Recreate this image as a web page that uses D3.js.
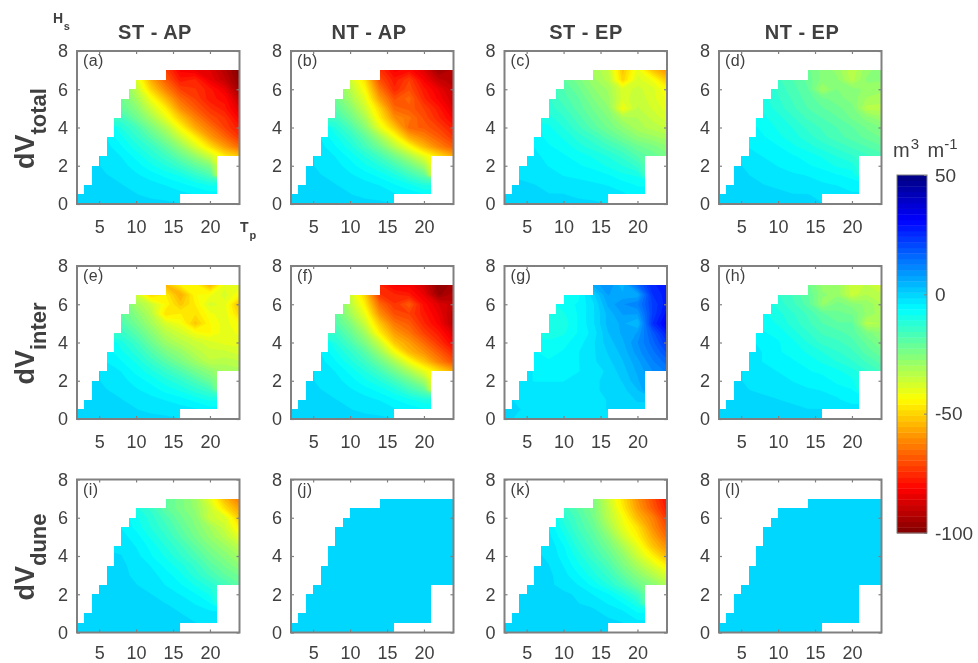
<!DOCTYPE html>
<html><head><meta charset="utf-8">
<script src="https://cdn.jsdelivr.net/npm/d3@7"></script>
<style>
html,body{margin:0;padding:0;background:#fff}
svg{display:block;filter:blur(0.5px)}
text{font-family:"Liberation Sans",Arial,sans-serif;fill:#404040}
</style></head><body>
<svg id="c" width="978" height="663"></svg>
<script>
const n = null;
const tpNodes = [2,4,6,8,10,12,14,16,18,20,22,24];
const hsTop = 7;
// Wave climate envelope: for each Tp bin start, lowest and highest Hs
const tpBins  = [2,3,4,5,6,7,8,9,10,11,12,13,14,15,16,17,18,19,20,21,22,23];
const hsLow   = [0,0,0,0,0,0,0,0,0,0,0,0,0,0,.5,.5,.5,.5,.5,2.5,2.5,2.5];
const hsHigh  = [.5,1,2,2.5,3.5,4.5,5.5,6,6.5,6.5,6.5,6.5,7,7,7,7,7,7,7,7,7,7];
const xTicks = [5,10,15,20];
const yTicks = [0,2,4,6,8];
const barTicks = [50,0,-50,-100];
const colTitles = ["ST - AP","NT - AP","ST - EP","NT - EP"];
const rowMain = ["total","inter","dune"];
const panelTags = ["(a)","(b)","(c)","(d)","(e)","(f)","(g)","(h)","(i)","(j)","(k)","(l)"];

// rows run from Hs = 7 (top) down to Hs = 0; columns are tpNodes
const dTotalStAp = [
 [n,n,n,n,n,n,-72,-82,-84,-86,-92,-100],
 [n,n,n,n,-38,-56,-68,-78,-76,-84,-90,-98],
 [n,n,n,n,-34,-50,-62,-72,-74,-78,-84,-96],
 [n,n,n,-22,-30,-42,-54,-66,-72,-78,-80,-90],
 [n,n,n,-20,-26,-36,-46,-60,-68,-74,-78,-86],
 [n,n,n,-15,-22,-30,-40,-52,-62,-70,-74,-82],
 [n,n,n,-11,-16,-24,-32,-44,-56,-64,-72,-78],
 [n,n,-4,-8,-13,-19,-26,-36,-46,-58,-66,-74],
 [n,n,-3,-6,-10,-14,-20,-28,-38,-48,-58,-66],
 [n,n,-2,-4,-7,-11,-15,-21,-28,-36,-46,-52],
 [n,-1,-2,-3,-5,-8,-11,-15,-20,-25,n,n],
 [n,-1,-1.5,-2,-3.5,-5,-7,-9,-13,-17,n,n],
 [n,-1,-1,-1.5,-2,-3,-4,-5.5,-7,-9,n,n],
 [-1,-1,-1,-1,-1.5,-2,-2.5,-3,-4,-5,n,n],
 [-1,-1,-1,-1,-1,-1,-1,-1.5,n,n,n,n]];
const dTotalNtAp = [
 [n,n,n,n,n,n,-74,-82,-80,-86,-96,-92],
 [n,n,n,n,-36,-48,-70,-78,-72,-82,-90,-92],
 [n,n,n,n,-33,-44,-64,-76,-70,-78,-84,-90],
 [n,n,n,-22,-30,-40,-58,-70,-66,-76,-82,-88],
 [n,n,n,-19,-26,-36,-50,-66,-68,-72,-78,-86],
 [n,n,n,-15,-22,-31,-46,-60,-64,-70,-76,-82],
 [n,n,n,-11,-17,-26,-40,-52,-66,-68,-72,-78],
 [n,n,-4,-8,-13,-20,-30,-42,-56,-62,-68,-74],
 [n,n,-3,-6,-10,-16,-23,-33,-43,-54,-62,-68],
 [n,n,-2,-4,-7,-11,-16,-23,-31,-40,-48,-56],
 [n,-1,-2,-3,-5,-8,-11,-16,-22,-30,n,n],
 [n,-1,-1.5,-2,-3.5,-5,-7,-10,-15,-20,n,n],
 [n,-1,-1,-1.5,-2,-3,-4,-6,-8,-11,n,n],
 [-1,-1,-1,-1,-1.5,-2,-2.5,-3.5,-4.5,-6,n,n],
 [-1,-1,-1,-1,-1,-1,-1,-1.5,n,n,n,n]];
const dTotalStEp = [
 [n,n,n,n,n,n,-30,-34,-52,-40,-52,-60],
 [n,n,n,n,-20,-24,-29,-33,-50,-38,-42,-52],
 [n,n,n,n,-18,-22,-27,-30,-38,-36,-38,-44],
 [n,n,n,-13,-17,-20,-25,-29,-38,-35,-38,-42],
 [n,n,n,-12,-15,-19,-23,-27,-42,-34,-37,-40],
 [n,n,n,-10,-13,-17,-21,-25,-31,-32,-35,-38],
 [n,n,n,-8,-11,-15,-19,-23,-27,-31,-33,-35],
 [n,n,-5,-7,-9,-12,-15,-19,-23,-27,-29,-31],
 [n,n,-4,-6,-7,-10,-12,-15,-18,-22,-24,-27],
 [n,n,-3,-5,-6,-7,-9,-11,-14,-18,-21,-24],
 [n,-2,-3,-4,-5,-6,-7,-9,-11,-14,n,n],
 [n,-2,-2.5,-3,-4,-4.5,-5,-6,-8,-9,n,n],
 [n,-1,-1.5,-2,-2.5,-3,-3.5,-4,-5,-6.5,n,n],
 [-1,-1,-1,-1.5,-1.5,-2,-2.5,-3,-3.5,-5,n,n],
 [-1,-1,-1,-1,-1,-1,-1,-1.5,n,n,n,n]];
const dTotalNtEp = [
 [n,n,n,n,n,n,-22,-26,-28,-34,-28,-26],
 [n,n,n,n,-15,-18,-21,-26,-27,-33,-27,-27],
 [n,n,n,n,-14,-17,-20,-30,-25,-26,-28,-29],
 [n,n,n,-10,-13,-16,-19,-22,-24,-26,-30,-31],
 [n,n,n,-9,-12,-15,-18,-20,-22,-24,-33,-33],
 [n,n,n,-8,-10,-13,-16,-18,-20,-23,-26,-29],
 [n,n,n,-7,-9,-11,-14,-16,-18,-20,-23,-25],
 [n,n,-5,-6,-8,-10,-12,-15,-17,-19,-21,-23],
 [n,n,-4,-5,-6,-8,-10,-12,-14,-16,-18,-20],
 [n,n,-3,-4,-5,-6,-7,-9,-11,-13,-15,-17],
 [n,-1,-2,-3,-4,-5,-6,-7,-9,-10,n,n],
 [n,-1,-1.5,-2.5,-3,-3.5,-4,-5,-6,-7,n,n],
 [n,-1,-1,-1.5,-2,-2.5,-3,-3.5,-4,-5,n,n],
 [-1,-1,-1,-1,-1,-1.5,-1.5,-2,-2.5,-3.5,n,n],
 [-1,-1,-1,-1,-1,-1,-1,-1.5,n,n,n,n]];
const dInterStAp = [
 [n,n,n,n,n,n,-54,-46,-44,-54,-40,-40],
 [n,n,n,n,-36,-50,-46,-56,-44,-42,-38,-44],
 [n,n,n,n,-30,-36,-44,-52,-46,-38,-40,-54],
 [n,n,n,-20,-26,-33,-48,-46,-48,-42,-40,-50],
 [n,n,n,-17,-23,-30,-38,-42,-52,-44,-40,-44],
 [n,n,n,-14,-19,-26,-33,-37,-42,-44,-40,-42],
 [n,n,n,-10,-15,-22,-29,-33,-36,-38,-40,-40],
 [n,n,-5,-8,-12,-18,-24,-28,-33,-36,-36,-38],
 [n,n,-4,-6,-9,-14,-19,-24,-29,-34,-33,-34],
 [n,n,-2,-4,-7,-10,-14,-18,-23,-27,-30,-31],
 [n,-1,-2,-3,-5,-7,-10,-13,-17,-22,n,n],
 [n,-1,-1.5,-2,-3.5,-5,-7,-9,-12,-15,n,n],
 [n,-1,-1,-1.5,-2,-3,-4,-5,-7,-9,n,n],
 [-1,-1,-1,-1,-1.5,-2,-2.5,-3,-3.5,-5,n,n],
 [-1,-1,-1,-1,-1,-1,-1,-1.5,n,n,n,n]];
const dInterNtAp = [
 [n,n,n,n,n,n,-76,-82,-82,-88,-98,-94],
 [n,n,n,n,-36,-50,-74,-76,-78,-84,-96,-92],
 [n,n,n,n,-33,-46,-66,-74,-68,-80,-86,-90],
 [n,n,n,-20,-30,-41,-60,-70,-72,-78,-84,-92],
 [n,n,n,-18,-25,-36,-52,-64,-68,-76,-82,-92],
 [n,n,n,-14,-21,-30,-46,-58,-64,-72,-78,-86],
 [n,n,n,-11,-17,-25,-36,-52,-58,-66,-74,-82],
 [n,n,-4,-8,-13,-19,-29,-42,-54,-60,-68,-76],
 [n,n,-3,-6,-10,-15,-22,-31,-42,-52,-62,-70],
 [n,n,-2,-4,-7,-11,-16,-23,-31,-40,-48,-56],
 [n,-1,-2,-3,-5,-8,-11,-16,-22,-30,n,n],
 [n,-1,-1.5,-2,-3.5,-5,-7,-10,-15,-20,n,n],
 [n,-1,-1,-1.5,-2,-3,-4,-6,-8,-10,n,n],
 [-1,-1,-1,-1,-1.5,-2,-2.5,-3.5,-4.5,-6,n,n],
 [-1,-1,-1,-1,-1,-1,-1,-1.5,n,n,n,n]];
const dInterStEp = [
 [n,n,n,n,n,n,6,10,4,16,26,28],
 [n,n,n,n,-8,-7,0,8,6,6,24,28],
 [n,n,n,n,-7,-6,-2,6,10,12,22,28],
 [n,n,n,-10,-9,-6,-2,4,8,8,22,30],
 [n,n,n,-10,-10,-6,-2,4,6,3,24,33],
 [n,n,n,-10,-9,-6,-3,3,6,8,18,28],
 [n,n,n,-8,-7,-5,-2,2,5,10,16,24],
 [n,n,-6,-7,-6,-4,-2,1,4,9,14,20],
 [n,n,-5,-6,-5,-4,-2,0,3,7,12,16],
 [n,n,-4,-5,-5,-4,-3,-1,2,6,10,13],
 [n,-3,-4,-4,-4,-3,-2,-1,1,5,n,n],
 [n,-2,-3,-3,-3,-3,-2,-1,0,3,n,n],
 [n,-2,-2,-2.5,-2.5,-2.5,-2,-1.5,-.5,1,n,n],
 [-1,-1.5,-2,-2,-2.5,-2.5,-2,-1.5,-1,0,n,n],
 [-1,-2,-2,-2.5,-3,-3,-3,-3,n,n,n,n]];
const dInterNtEp = [
 [n,n,n,n,n,n,-22,-28,-28,-36,-34,-38],
 [n,n,n,n,-13,-16,-20,-27,-28,-36,-32,-34],
 [n,n,n,n,-12,-15,-19,-28,-24,-26,-28,-32],
 [n,n,n,-8,-10,-13,-16,-20,-22,-23,-28,-31],
 [n,n,n,-7,-9,-12,-15,-18,-20,-20,-33,-32],
 [n,n,n,-6,-7,-10,-13,-16,-17,-19,-24,-27],
 [n,n,n,-5,-6,-8,-11,-14,-15,-17,-21,-25],
 [n,n,-3,-4,-6,-7,-9,-11,-13,-15,-19,-22],
 [n,n,-3,-4,-5,-6,-7,-9,-11,-13,-16,-19],
 [n,n,-2,-3,-4,-5,-6,-7,-8,-10,-13,-16],
 [n,-1,-2,-3,-3,-4,-5,-5,-7,-8,n,n],
 [n,-1,-1.5,-2,-2.5,-3,-3.5,-4,-5,-6,n,n],
 [n,-1,-1,-1,-1.5,-2,-2.5,-3,-3.5,-5,n,n],
 [-1,-1,-1,-1,-1,-1,-1.5,-1.5,-2,-2.5,n,n],
 [-1,-1,-1,-1,-1,-1,-1,-1.5,n,n,n,n]];
const dDuneStAp = [
 [n,n,n,n,n,n,-20,-24,-29,-40,-54,-64],
 [n,n,n,n,-10,-14,-20,-24,-28,-36,-48,-58],
 [n,n,n,n,-8,-12,-17,-22,-26,-36,-38,-52],
 [n,n,n,-4,-7,-11,-15,-20,-25,-30,-36,-46],
 [n,n,n,-3,-5,-9,-13,-18,-23,-28,-33,-40],
 [n,n,n,-2,-4,-7,-11,-15,-20,-25,-29,-34],
 [n,n,n,-1.5,-3,-6,-9,-13,-17,-22,-26,-30],
 [n,n,-1,-1,-2.5,-4,-7,-10,-14,-19,-23,-27],
 [n,n,-1,-1,-2,-3,-5,-8,-12,-16,-20,-23],
 [n,n,-1,-1,-1.5,-2.5,-4,-6,-9,-12,-16,-20],
 [n,-1,-1,-1,-1,-1.5,-3,-4,-6,-9,n,n],
 [n,-1,-1,-1,-1,-1,-1.5,-2.5,-4,-6,n,n],
 [n,-1,-1,-1,-1,-1,-1,-1.5,-2.5,-3,n,n],
 [-1,-1,-1,-1,-1,-1,-1,-1,-1.5,-2,n,n],
 [-1,-1,-1,-1,-1,-1,-1,-1,n,n,n,n]];
const dDuneNtAp = [
 [n,n,n,n,n,n,-1,-1,-1,-1,-1,-1],
 [n,n,n,n,-1,-1,-1,-1,-1,-1,-1,-1],
 [n,n,n,-1,-1,-1,-1,-1,-1,-1,-1,-1],
 [n,n,n,-1,-1,-1,-1,-1,-1,-1,-1,-1],
 [n,n,-1,-1,-1,-1,-1,-1,-1,-1,-1,-1],
 [n,-1,-1,-1,-1,-1,-1,-1,-1,-1,n,n],
 [n,-1,-1,-1,-1,-1,-1,-1,-1,-1,n,n],
 [-1,-1,-1,-1,-1,-1,-1,-1,n,n,n,n]];
const dDuneStEp = [
 [n,n,n,n,n,n,-24,-36,-48,-60,-70,-80],
 [n,n,n,n,-14,-19,-24,-34,-46,-58,-68,-78],
 [n,n,n,n,-12,-17,-23,-33,-42,-54,-62,-74],
 [n,n,n,-4,-10,-16,-21,-30,-40,-48,-60,-70],
 [n,n,n,-3,-8,-14,-19,-26,-36,-45,-56,-66],
 [n,n,n,-2,-6,-12,-17,-23,-31,-40,-52,-60],
 [n,n,n,-2,-5,-10,-15,-20,-27,-36,-45,-54],
 [n,n,-1,-1.5,-4,-8,-12,-17,-24,-31,-38,-46],
 [n,n,-1,-1,-3,-6,-10,-14,-20,-26,-32,-38],
 [n,n,-1,-1,-2.5,-4,-7,-11,-16,-22,-26,-32],
 [n,-1,-1,-1,-1,-2,-4,-6,-10,-15,n,n],
 [n,-1,-1,-1,-1,-1.5,-2,-4,-6,-10,n,n],
 [n,-1,-1,-1,-1,-1,-1,-2,-3,-6,n,n],
 [-1,-1,-1,-1,-1,-1,-1,-1,-1.5,-3,n,n],
 [-1,-1,-1,-1,-1,-1,-1,-1,n,n,n,n]];
const dDuneNtEp = [
 [n,n,n,n,n,n,-1,-1,-1,-1,-1,-1],
 [n,n,n,n,-1,-1,-1,-1,-1,-1,-1,-1],
 [n,n,n,-1,-1,-1,-1,-1,-1,-1,-1,-1],
 [n,n,n,-1,-1,-1,-1,-1,-1,-1,-1,-1],
 [n,n,-1,-1,-1,-1,-1,-1,-1,-1,-1,-1],
 [n,-1,-1,-1,-1,-1,-1,-1,-1,-1,n,n],
 [n,-1,-1,-1,-1,-1,-1,-1,-1,-1,n,n],
 [-1,-1,-1,-1,-1,-1,-1,-1,n,n,n,n]];
const panels = [dTotalStAp,dTotalNtAp,dTotalStEp,dTotalNtEp,dInterStAp,dInterNtAp,dInterStEp,dInterNtEp,dDuneStAp,dDuneNtAp,dDuneStEp,dDuneNtEp];

// Layout
const colX = [77,291,504.5,719], rowY = [51,266,479.5], pw = 162.5, ph = 153;
const titleX = [155,369,586,802];
const tickPad = [16,16,14];
const GREY = "#808080", INK = "#404040";

// Jet colormap, reversed on the value axis, in discrete levels
const levels = 64, vMin = -100, vMax = 50;
const jetDom = [0,.125,.375,.625,.875,1].map(t => vMax - t*(vMax-vMin));
const jetRange = ["#000080","#0000ff","#00ffff","#ffff00","#ff0000","#800000"];
const jet = d3.scaleLinear().domain(jetDom.slice().reverse()).range(jetRange.slice().reverse()).interpolate(d3.interpolateRgb);
const step = (vMax-vMin)/levels;
const thresholds = d3.range(levels).map(i => vMin + i*step);

const svg = d3.select("#c");

function fillNearest(g){
  const R=g.length,C=g[0].length,out=[];
  const ry=14/(R-1); // row distance in half-metres
  for(let r=0;r<R;r++)for(let c=0;c<C;c++){
    if(g[r][c]!==null){out.push(g[r][c]);continue;}
    let best=Infinity,val=0;
    for(let a=0;a<R;a++)for(let b=0;b<C;b++){
      if(g[a][b]===null)continue;
      const d=(a-r)*(a-r)*ry*ry+(b-c)*(b-c)*4;
      if(d<best){best=d;val=g[a][b];}
    }
    out.push(val);
  }
  return out;
}

panels.forEach((grid,idx)=>{
  const col=idx%4,row=Math.floor(idx/4);
  const x=d3.scaleLinear().domain([2,24]).range([0,pw]);
  const y=d3.scaleLinear().domain([0,8]).range([ph,0]);
  const ox=colX[col],oy=rowY[row];
  const g=svg.append("g").attr("transform",`translate(${ox},${oy})`);
  const snapX=v=>Math.round(ox+x(v))-ox, snapY=v=>Math.round(oy+y(v))-oy;
  // envelope clip, snapped to whole pixels so the stacked bands leave no fringe
  const top=[],bot=[];
  tpBins.forEach((t,i)=>{
    top.push([snapX(t),snapY(hsHigh[i])],[snapX(t+1),snapY(hsHigh[i])]);
    bot.push([snapX(t),snapY(hsLow[i])],[snapX(t+1),snapY(hsLow[i])]);
  });
  const poly=top.concat(bot.reverse());
  g.append("clipPath").attr("id","clip"+idx).append("path").attr("d",d3.line()(poly)+"Z");
  // filled bands
  const hsStep=hsTop/(grid.length-1);
  const proj=d3.geoTransform({point(cx,cy){
    const tp=tpNodes[0]+(cx-.5)*(tpNodes[1]-tpNodes[0]);
    const hs=hsTop-(cy-.5)*hsStep;
    this.stream.point(x(tp),y(hs));
  }});
  const path=d3.geoPath(proj);
  const contours=d3.contours().size([tpNodes.length,grid.length]).thresholds(thresholds);
  g.append("g").attr("clip-path",`url(#clip${idx})`)
   .selectAll("path").data(contours(fillNearest(grid))).join("path")
   .attr("d",path).attr("fill",d=>jet(d.value+step/2));
  // axes
  const styleAxis=(a)=>{a.select(".domain").remove();a.selectAll("line").attr("stroke",GREY).attr("stroke-width",1.2);};
  const ax=g.append("g").attr("transform",`translate(0,${ph})`)
    .call(d3.axisBottom(x).tickValues(xTicks).tickSize(-3).tickPadding(tickPad[row])).call(styleAxis);
  ax.selectAll("text").attr("font-size",18).attr("fill",INK).style("font-family",'"Liberation Sans"');
  const ay=g.append("g").call(d3.axisLeft(y).tickValues(yTicks).tickSize(-3).tickPadding(9)).call(styleAxis);
  ay.selectAll("text").attr("font-size",18).attr("fill",INK).style("font-family",'"Liberation Sans"');
  g.append("g").call(d3.axisTop(x).tickValues(xTicks).tickSize(-3).tickFormat("")).call(styleAxis);
  g.append("g").attr("transform",`translate(${pw},0)`).call(d3.axisRight(y).tickValues(yTicks).tickSize(-3).tickFormat("")).call(styleAxis);
  g.append("rect").attr("width",pw).attr("height",ph).attr("fill","none").attr("stroke",GREY).attr("stroke-width",2);
  g.append("text").attr("x",6).attr("y",15).attr("font-size",16).attr("letter-spacing",.4).text(panelTags[idx]);
});

// column titles
colTitles.forEach((t,i)=>{
  svg.append("text").attr("x",titleX[i]).attr("y",39).attr("text-anchor","middle")
    .attr("font-size",20).attr("font-weight","bold").attr("letter-spacing",.5).attr("fill","#333").text(t);
});
// row labels
rowMain.forEach((t,i)=>{
  const cy=rowY[i]+ph/2+1;
  const lab=svg.append("text").attr("transform",`translate(34,${cy}) rotate(-90)`).attr("text-anchor","middle")
    .attr("font-weight","bold").attr("fill","#333").attr("font-size",27);
  lab.append("tspan").text("dV");
  lab.append("tspan").attr("font-size",22).attr("dy",12).text(t);
});
// Hs, Tp markers
const hsLab=svg.append("text").attr("x",53).attr("y",23).attr("font-weight","bold").attr("font-size",14).attr("fill","#333");
hsLab.append("tspan").text("H");hsLab.append("tspan").attr("font-size",11).attr("dx",.5).attr("dy",7).text("s");
const tpLab=svg.append("text").attr("x",240).attr("y",232).attr("font-weight","bold").attr("font-size",14).attr("fill","#333");
tpLab.append("tspan").text("T");tpLab.append("tspan").attr("font-size",11).attr("dx",1).attr("dy",7).text("p");

// colour bar
const bx=897,bw=30,bTop=175,bBot=533;
const by=d3.scaleLinear().domain([vMin,vMax]).range([bBot,bTop]);
const bar=svg.append("g");
bar.selectAll("rect").data(thresholds).join("rect")
  .attr("x",bx).attr("width",bw).attr("y",d=>by(d+step)).attr("height",d=>by(d)-by(d+step)+.4)
  .attr("fill",d=>jet(d+step/2));
bar.append("rect").attr("x",bx).attr("y",bTop).attr("width",bw).attr("height",bBot-bTop).attr("fill","none").attr("stroke",GREY).attr("stroke-width",1);
const aBar=svg.append("g").attr("transform",`translate(${bx+bw},0)`)
  .call(d3.axisRight(by).tickValues(barTicks).tickSize(-3).tickPadding(8).tickFormat(d=>String(d)));
aBar.select(".domain").remove();
aBar.selectAll("line").attr("stroke",GREY);
aBar.selectAll("text").attr("font-size",19).attr("fill",INK).style("font-family",'"Liberation Sans"');
const unit=svg.append("text").attr("x",893).attr("y",157).attr("font-size",20);
unit.append("tspan").text("m");
unit.append("tspan").attr("font-size",15).attr("dx",1).attr("dy",-8).text("3");
unit.append("tspan").attr("dx",3).attr("dy",8).text(" m");
unit.append("tspan").attr("font-size",15).attr("dy",-8).text("-1");
</script>
</body></html>
